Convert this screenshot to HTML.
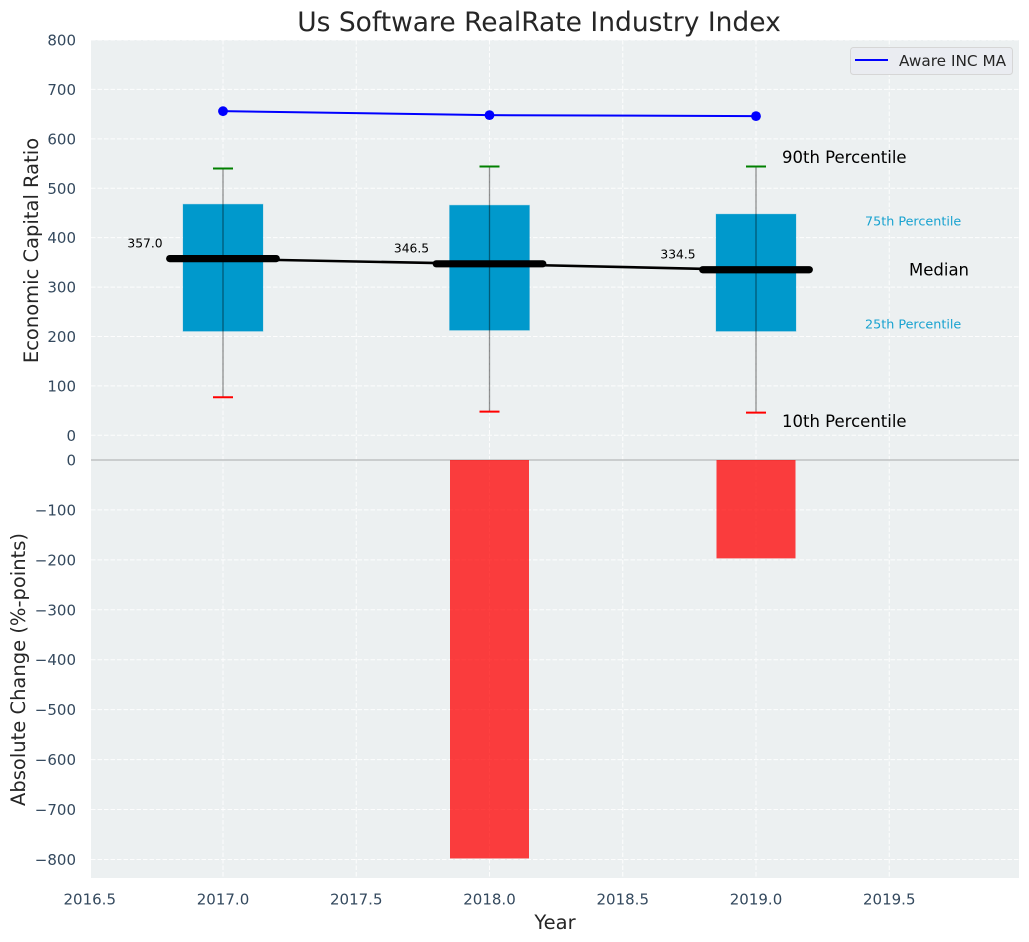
<!DOCTYPE html>
<html>
<head>
<meta charset="utf-8">
<title>Us Software RealRate Industry Index</title>
<style>
html,body{margin:0;padding:0;background:#fff;width:1029px;height:942px;overflow:hidden}
svg{display:block;font-family:"DejaVu Sans","Liberation Sans",sans-serif}
</style>
</head>
<body>
<svg id="chart" xmlns="http://www.w3.org/2000/svg" width="1029" height="942" viewBox="0 0 1029 942">
  <rect x="91" y="40" width="928" height="838" fill="#ecf0f1"/>
  <g id="grid"></g>
  <g id="bars"></g>
  <g id="boxes"></g>
  <g id="lines"></g>
  <g id="labels"></g>
  <g id="ticks"></g>
  <text x="539" y="31" font-size="26.5" fill="#262626" text-anchor="middle">Us Software RealRate Industry Index</text>
  <text transform="translate(38,250.5) rotate(-90)" font-size="19.5" fill="#262626" text-anchor="middle">Economic Capital Ratio</text>
  <text transform="translate(25,669.5) rotate(-90)" font-size="19.5" fill="#262626" text-anchor="middle">Absolute Change (%-points)</text>
  <text x="555" y="929" font-size="19.5" fill="#262626" text-anchor="middle">Year</text>
  <g>
    <rect x="850.5" y="47.5" width="162" height="27" rx="3" fill="#eaecf1" stroke="#d6d6d6" stroke-width="1"/>
    <line x1="855" y1="60" x2="888" y2="60" stroke="#0000ff" stroke-width="2"/>
    <text x="899" y="66" font-size="15.3" fill="#262626">Aware INC MA</text>
  </g>
</svg>
<script>
const years = [2017, 2018, 2019];
const whiskerHigh = [540, 544, 544];
const q3 = [467, 465, 447];
const medians = [357.0, 346.5, 334.5];
const q1 = [210, 212, 210];
const whiskerLow = [77, 48, 46];
const movingAverage = [656, 648, 646];
const changes = [0, -798, -197];
const xTicks = [2016.5, 2017.0, 2017.5, 2018.0, 2018.5, 2019.0, 2019.5];
const topYTicks = [0, 100, 200, 300, 400, 500, 600, 700, 800];
const bottomYTicks = [0, -100, -200, -300, -400, -500, -600, -700, -800];

const NS = 'http://www.w3.org/2000/svg';
const xScale = v => 223 + (v - 2017) * 266.5;
const topY = v => 435.3 - v * 0.4941;
const bottomY = v => 460 - v * 0.4993;

function make(parent, tag, attrs, text) {
  const el = document.createElementNS(NS, tag);
  for (const k in attrs) el.setAttribute(k, attrs[k]);
  if (text !== undefined) el.textContent = text;
  document.getElementById(parent).appendChild(el);
  return el;
}

const gridStyle = {stroke: '#ffffff', 'stroke-width': 1, 'stroke-dasharray': '4.5 2', opacity: 0.9};
xTicks.forEach(t => {
  const px = xScale(t);
  if (px >= 91) {
    const g = make('grid', 'line', {x1: px, x2: px, y1: 40, y2: 878, ...gridStyle});
    
    
  }
  const l = make('ticks', 'text', {x: px, y: 904.5, 'font-size': 15, fill: '#34495e', 'text-anchor': 'middle'}, t.toFixed(1));
  
  
});
topYTicks.forEach(t => {
  const py = topY(t);
  const g = make('grid', 'line', {x1: 91, x2: 1019, y1: py, y2: py, ...gridStyle});
  
  
  const l = make('ticks', 'text', {x: 76, y: py + 5.5, 'font-size': 15, fill: '#34495e', 'text-anchor': 'end'}, String(t));
  
  
});
bottomYTicks.forEach(t => {
  const py = bottomY(t);
  if (t !== 0) {
    const g = make('grid', 'line', {x1: 91, x2: 1019, y1: py, y2: py, ...gridStyle});
    
    
  }
  const l = make('ticks', 'text', {x: 76, y: py + 5.5, 'font-size': 15, fill: '#34495e', 'text-anchor': 'end'}, (t < 0 ? '\u2212' : '') + Math.abs(t));
  
  
});

const zeroLine = make('grid', 'line', {x1: 91, x2: 1019, y1: bottomY(0), y2: bottomY(0), stroke: '#bfc1c2', 'stroke-width': 1.4});



const boxHalf = 0.15 * 266.5;
const medianHalf = 0.2 * 266.5;
const capHalf = 10;

years.forEach((yr, i) => {
  const cx = xScale(yr);
  if (changes[i] !== 0) {
    const bar = make('bars', 'rect', {x: cx - 39.5, y: bottomY(0), width: 79, height: bottomY(changes[i]) - bottomY(0), fill: '#ff0000', 'fill-opacity': 0.75});
    
    
  }
  const box = make('boxes', 'rect', {x: cx - boxHalf, y: topY(q3[i]) - 0.3, width: boxHalf * 2, height: topY(q1[i]) - topY(q3[i]), fill: '#0099cc', stroke: '#0099cc', 'stroke-opacity': 0.25, 'stroke-width': 1});
  
  
  const whisker = make('boxes', 'line', {x1: cx, x2: cx, y1: topY(whiskerHigh[i]), y2: topY(whiskerLow[i]), stroke: '#000000', 'stroke-opacity': 0.42, 'stroke-width': 1.3});
  
  
  const capHi = make('boxes', 'line', {x1: cx - capHalf, x2: cx + capHalf, y1: topY(whiskerHigh[i]), y2: topY(whiskerHigh[i]), stroke: '#008000', 'stroke-width': 2});
  
  
  const capLo = make('boxes', 'line', {x1: cx - capHalf, x2: cx + capHalf, y1: topY(whiskerLow[i]), y2: topY(whiskerLow[i]), stroke: '#ff0000', 'stroke-width': 2});
  
  
  const valueLabel = make('labels', 'text', {x: cx - 78, y: topY(medians[i]) - 11.5, 'font-size': 12.3, fill: '#000000', 'text-anchor': 'middle'}, medians[i].toFixed(1));
  
  
});

const medianLine = make('lines', 'polyline', {points: years.map((y, i) => xScale(y) + ',' + topY(medians[i])).join(' '), fill: 'none', stroke: '#000000', 'stroke-width': 2.6});


years.forEach((yr, i) => {
  const cx = xScale(yr);
  const m = make('lines', 'line', {x1: cx - medianHalf, x2: cx + medianHalf, y1: topY(medians[i]) - 0.3, y2: topY(medians[i]) - 0.3, stroke: '#000000', 'stroke-width': 7.2, 'stroke-linecap': 'round'});
  
  
});

const maLine = make('lines', 'polyline', {points: years.map((y, i) => xScale(y) + ',' + topY(movingAverage[i])).join(' '), fill: 'none', stroke: '#0000ff', 'stroke-width': 2});


years.forEach((yr, i) => {
  const pt = make('lines', 'circle', {cx: xScale(yr), cy: topY(movingAverage[i]), r: 4.9, fill: '#0000ff'});
  
  
});

const last = years.length - 1;
const lastX = xScale(years[last]);
const p90 = make('labels', 'text', {x: lastX + 26, y: topY(whiskerHigh[last]) - 3.5, 'font-size': 16.5, fill: '#000000'}, '90th Percentile');


const p10 = make('labels', 'text', {x: lastX + 26, y: topY(whiskerLow[last]) + 14.5, 'font-size': 16.5, fill: '#000000'}, '10th Percentile');


const medLabel = make('labels', 'text', {x: lastX + 153, y: topY(medians[last]) + 5.5, 'font-size': 16.5, fill: '#000000'}, 'Median');


const p75 = make('labels', 'text', {x: lastX + 109, y: topY(q3[last]) + 11, 'font-size': 12.75, fill: '#0099cc', 'fill-opacity': 0.9}, '75th Percentile');


const p25 = make('labels', 'text', {x: lastX + 109, y: topY(q1[last]) - 3, 'font-size': 12.75, fill: '#0099cc', 'fill-opacity': 0.9}, '25th Percentile');


</script>
</body>
</html>
